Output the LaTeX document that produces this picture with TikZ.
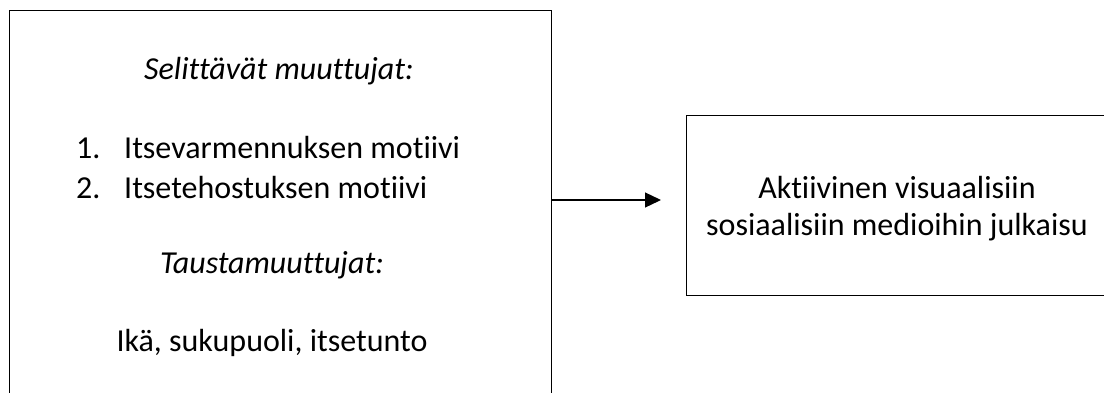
\documentclass[tikz,border=0pt]{standalone}
\usepackage{fontspec}
\setmainfont[Ligatures=NoCommon]{Carlito}
\usetikzlibrary{arrows.meta}
\begin{document}
\begin{tikzpicture}[x=1pt,y=-1pt,
  frame/.style={draw, line width=1.3pt, inner sep=0pt, anchor=north west},
  txt/.style={inner sep=0pt, anchor=base, font=\fontsize{32}{39}\selectfont},
  txtl/.style={txt, anchor=base west},
  link/.style={line width=1.3pt, -{Triangle[length=16pt,width=15pt]}}]
\useasboundingbox (0,0) rectangle (1104,392);
% boxes
\node[frame, minimum width=542pt, minimum height=400pt] (vars) at (9,10) {};
\node[frame, minimum width=422pt, minimum height=180pt] (outcome) at (686,115) {};
% left box contents
\node[txt, font=\fontsize{32}{39}\selectfont\itshape] (selhead) at (279,79) {Selittävät muuttujat:};
\node[txtl] (n1) at (76,158) {1.};
\node[txtl] (item1) at (124,158) {Itsevarmennuksen motiivi};
\node[txtl] (n2) at (76,198) {2.};
\node[txtl] (item2) at (124,198) {Itsetehostuksen motiivi};
\node[txt, font=\fontsize{32}{39}\selectfont\itshape] (bghead) at (272,273) {Taustamuuttujat:};
\node[txt] (bg) at (272,351) {Ikä, sukupuoli, itsetunto};
% right box contents
\node[txt] (out1) at (897,198) {Aktiivinen visuaalisiin};
\node[txt] (out2) at (897,235) {sosiaalisiin medioihin julkaisu};
% connector
\coordinate (tip) at (661,200);
\draw[link] (vars.east |- tip) -- (tip);
\end{tikzpicture}
\end{document}
